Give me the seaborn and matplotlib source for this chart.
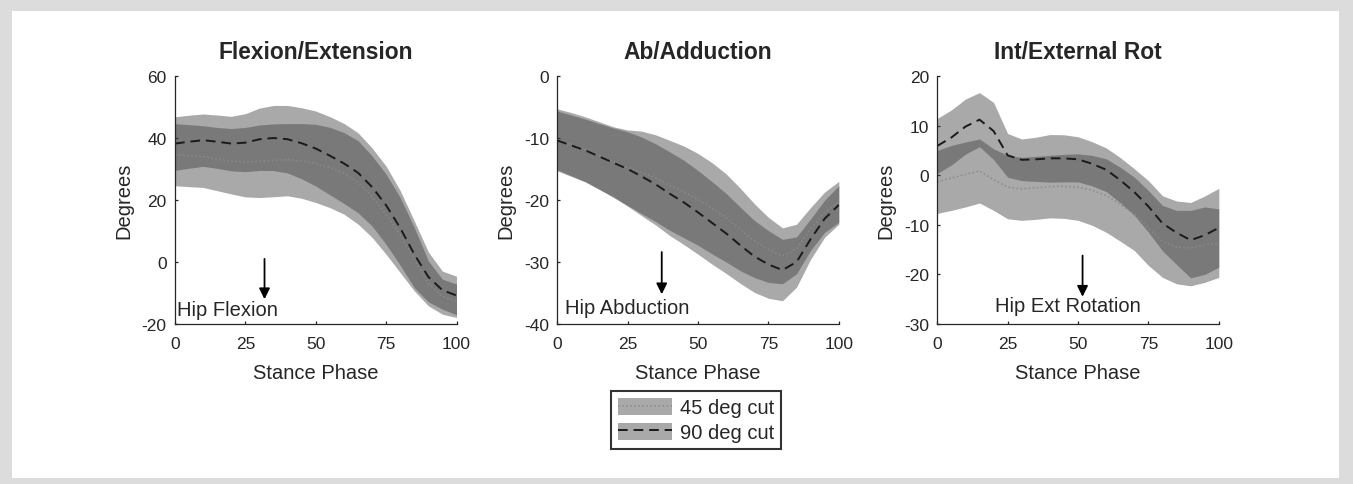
import numpy as np
import pandas as pd
import matplotlib
matplotlib.use('Agg')
import matplotlib.pyplot as plt
import seaborn as sns
from matplotlib.patches import Patch, Rectangle
from matplotlib.lines import Line2D
from matplotlib.legend_handler import HandlerTuple

# ------------------------------------------------------------------
# data, stance phase in %
# ------------------------------------------------------------------
stance = [0, 5, 10, 15, 20, 25, 30, 35, 40, 45, 50, 55, 60, 65, 70, 75, 80, 85, 90, 95, 100]

flex_45_mean = [34.6, 34.3, 34.0, 33.2, 32.5, 32.2, 32.5, 32.8, 33.0, 32.6, 31.8, 30.5, 28.6, 25.7, 21.1, 15.4, 8.7, 0.9, -6.9, -11.2, -12.5]
flex_45_sd = [10.0, 10.0, 9.95, 10.2, 10.55, 11.2, 11.7, 11.75, 11.65, 12.05, 12.6, 12.95, 13.15, 13.45, 13.15, 12.9, 12.1, 10.2, 7.25, 5.65, 5.4]
flex_90_mean = [38.2, 38.8, 39.3, 38.8, 38.2, 38.5, 39.6, 40.0, 39.6, 38.3, 36.6, 34.3, 31.8, 28.8, 24.2, 18.3, 11.0, 2.5, -4.8, -9.1, -10.8]
flex_90_sd = [8.65, 8.55, 8.45, 8.6, 8.8, 9.35, 10.05, 10.5, 10.9, 11.45, 12.1, 12.6, 12.9, 12.9, 12.6, 12.6, 12.05, 10.75, 8.05, 6.15, 6.2]

abd_45_mean = [-10.3, -11.05, -11.85, -12.85, -13.85, -14.8, -15.55, -16.5, -17.65, -18.7, -19.9, -21.35, -22.9, -24.75, -26.55, -28.05, -29.0, -27.9, -24.65, -21.95, -20.3]
abd_45_sd = [5.0, 5.15, 5.25, 5.45, 5.65, 6.1, 6.65, 7.0, 7.25, 7.4, 7.4, 7.35, 7.1, 6.65, 5.95, 5.25, 4.5, 4.0, 3.45, 3.25, 3.3]
abd_90_mean = [-10.4, -11.2, -12.0, -13.0, -14.0, -15.0, -16.2, -17.5, -19.0, -20.4, -22.0, -23.7, -25.4, -27.3, -29.1, -30.4, -31.3, -30.0, -26.3, -23.0, -20.8]
abd_90_sd = [4.75, 4.9, 5.05, 5.3, 5.6, 6.0, 6.35, 6.55, 6.75, 6.8, 6.75, 6.65, 6.45, 6.15, 5.8, 5.45, 4.95, 4.05, 3.25, 3.0, 3.1]

rot_45_mean = [-1.35, -0.55, 0.15, 0.85, -0.9, -2.4, -2.75, -2.55, -2.3, -2.25, -2.4, -3.05, -4.1, -5.85, -7.8, -10.65, -13.35, -14.5, -14.7, -14.0, -13.7]
rot_45_sd = [6.35, 6.55, 6.55, 6.45, 6.2, 6.4, 6.35, 6.35, 6.3, 6.45, 6.7, 7.05, 7.4, 7.45, 7.4, 7.55, 7.25, 7.4, 7.6, 7.6, 6.9]
rot_90_mean = [5.9, 7.6, 9.8, 11.2, 8.9, 4.0, 3.1, 3.2, 3.4, 3.4, 3.2, 2.3, 1.1, -1.0, -3.4, -6.3, -9.7, -11.6, -13.1, -12.1, -10.6]
rot_90_sd = [5.55, 5.55, 5.55, 5.45, 5.75, 4.4, 4.2, 4.45, 4.8, 4.75, 4.55, 4.45, 4.4, 4.55, 4.7, 5.2, 5.55, 6.4, 7.6, 7.9, 7.95]

titles = ['Flexion/Extension', 'Ab/Adduction', 'Int/External Rot']
motion_labels = ['Hip Flexion', 'Hip Abduction', 'Hip Ext Rotation']
x_ticks = [0, 25, 50, 75, 100]
y_limits = [(-20, 60), (-40, 0), (-30, 20)]
y_steps = [20, 10, 10]
legend_labels = ['45 deg cut', '90 deg cut']

panels = [
    (flex_45_mean, flex_45_sd, flex_90_mean, flex_90_sd),
    (abd_45_mean, abd_45_sd, abd_90_mean, abd_90_sd),
    (rot_45_mean, rot_45_sd, rot_90_mean, rot_90_sd),
]

# arrow (x, y_top, y_tip) and label anchor (x, y), in data coords
arrows = [(31.8, 1.0, -12.0), (37.1, -28.4, -35.2), (51.6, -16.2, -24.5)]
label_pos = [(0.8, -15.4), (2.7, -37.3), (20.5, -26.3)]

# ------------------------------------------------------------------
# style
# ------------------------------------------------------------------
sns.set_style('ticks')
plt.rcParams['font.family'] = ['Liberation Sans', 'DejaVu Sans']
plt.rcParams['axes.unicode_minus'] = False
text_col = '#262626'
band_col = '#404040'
band_alpha = 0.45
dot_col = '#8a8a8a'

fig = plt.figure(figsize=(13.53, 4.85), dpi=100)
fig.patch.set_facecolor('#dcdcdc')
fig.patches.append(Rectangle((12 / 1353, 6 / 485), 1327 / 1353, 467 / 485,
                             transform=fig.transFigure, facecolor='white',
                             edgecolor='none', zorder=-5))

lefts = [175 / 1353, 557.3 / 1353, 937.3 / 1353]
width = 281.5 / 1353
bottom = 1 - 325 / 485
height = 248 / 485

for i, (m45, s45, m90, s90) in enumerate(panels):
    ax = fig.add_axes([lefts[i], bottom, width, height])
    ax.set_facecolor('none')
    x = np.array(stance)
    m45, s45, m90, s90 = map(np.array, (m45, s45, m90, s90))

    # 45 deg band + mean, then 90 deg band on top (hides dotted line where they overlap)
    ax.fill_between(x, m45 - s45, m45 + s45, color=band_col, alpha=band_alpha, lw=0)
    sns.lineplot(x=x, y=m45, ax=ax, color=dot_col, linestyle=':', lw=1.1)
    ax.fill_between(x, m90 - s90, m90 + s90, color=band_col, alpha=band_alpha, lw=0)
    sns.lineplot(x=x, y=m90, ax=ax, color='#1a1a1a', linestyle=(0, (5, 3)), lw=1.4)

    lo, hi = y_limits[i]
    ax.set_xlim(0, 100)
    ax.set_ylim(lo, hi)
    ax.set_xticks(x_ticks)
    ax.set_yticks(np.arange(lo, hi + 1, y_steps[i]))
    ax.tick_params(direction='in', length=2.5, width=0.9, labelsize=12.5,
                   colors=text_col, pad=6)
    ax.tick_params(axis='x', pad=9)
    sns.despine(ax=ax)
    for sp in ['left', 'bottom']:
        ax.spines[sp].set_color(text_col)
        ax.spines[sp].set_linewidth(0.9)

    ax.set_title(titles[i], fontsize=16.4, fontweight='bold', color=text_col, pad=13)
    ax.set_xlabel('Stance Phase', fontsize=14.5, color=text_col, labelpad=8)
    ax.set_ylabel('Degrees', fontsize=14.5, color=text_col, labelpad=6)

    ax_x, y_top, y_tip = arrows[i]
    ax.annotate('', xy=(ax_x, y_tip), xytext=(ax_x, y_top),
                arrowprops=dict(arrowstyle='-|>', color='black', lw=1.3,
                                mutation_scale=16, shrinkA=0, shrinkB=0))
    ax.text(label_pos[i][0], label_pos[i][1], motion_labels[i], fontsize=14.5,
            color=text_col, ha='left', va='center')

# legend below the middle panel
h45 = (Patch(facecolor=band_col, alpha=band_alpha, edgecolor='none'),
       Line2D([], [], color=dot_col, linestyle=':', lw=1.1))
h90 = (Patch(facecolor=band_col, alpha=band_alpha, edgecolor='none'),
       Line2D([], [], color='#1a1a1a', linestyle=(0, (5, 3)), lw=1.4))
leg = fig.legend([h45, h90], legend_labels, handler_map={tuple: HandlerTuple(ndivide=1, pad=0)},
                 loc='center', bbox_to_anchor=(696 / 1353, 1 - 421 / 485),
                 fontsize=14.5, frameon=True, fancybox=False, handlelength=2.7,
                 handleheight=0.95, handletextpad=0.4, labelspacing=0.25,
                 borderpad=0.35, borderaxespad=0)
leg.get_frame().set_edgecolor('black')
leg.get_frame().set_linewidth(1.5)
for t in leg.get_texts():
    t.set_color(text_col)

fig.savefig('out.png', dpi=100, facecolor=fig.get_facecolor())
